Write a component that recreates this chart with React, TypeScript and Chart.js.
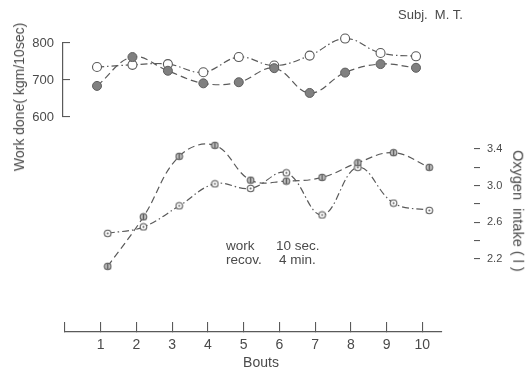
import React, { useEffect, useRef } from 'react';
import { Chart, registerables } from 'chart.js';

Chart.register(...registerables);

// ---------- data ----------
const bouts = [1, 2, 3, 4, 5, 6, 7, 8, 9, 10];
const workOpen = [735, 741, 743, 721, 762, 739, 766, 812, 773, 764];
const workFilled = [684, 762, 725, 691, 694, 732, 665, 720, 743, 733];
const o2Bar = [2.12, 2.66, 3.32, 3.44, 3.06, 3.05, 3.09, 3.25, 3.36, 3.2];
const o2Dot = [2.48, 2.55, 2.78, 3.02, 2.97, 3.14, 2.68, 3.2, 2.81, 2.73];
const workTicks = [600, 650, 700, 750, 800];
const workLabelled = [600, 700, 800];
const o2Ticks = [2.2, 2.4, 2.6, 2.8, 3.0, 3.2, 3.4];
const o2Labelled = [2.2, 2.6, 3.0, 3.4];
const boutTicks = [0, 1, 2, 3, 4, 5, 6, 7, 8, 9, 10];

// ---------- style ----------
const W = 526;
const H = 371;
const FONT = "'Liberation Sans', Arial, Helvetica, sans-serif";
const LINE = '#5a5a5a';
const TEXT = '#4a4a4a';
const DASH_LONG = [7, 4];
const DASH_DOT = [7, 3, 1.5, 3];

function makeMarker(kind: 'dot' | 'bar'): HTMLCanvasElement {
  const c = document.createElement('canvas');
  c.width = 9;
  c.height = 9;
  const g = c.getContext('2d')!;
  g.lineWidth = 1.1;
  g.strokeStyle = LINE;
  g.fillStyle = kind === 'bar' ? '#c4c4c4' : '#ffffff';
  g.beginPath();
  g.arc(4.5, 4.5, 3.3, 0, Math.PI * 2);
  g.fill();
  g.stroke();
  g.fillStyle = LINE;
  if (kind === 'dot') {
    g.beginPath();
    g.arc(4.5, 4.5, 1, 0, Math.PI * 2);
    g.fill();
  } else {
    g.fillRect(3.8, 1.6, 1.4, 5.8);
  }
  return c;
}

const pts = (ys: number[]) => bouts.map((b, i) => ({ x: b, y: ys[i] }));

export default function App() {
  const topRef = useRef<HTMLCanvasElement>(null);
  const midRef = useRef<HTMLCanvasElement>(null);
  const axRef = useRef<HTMLCanvasElement>(null);

  useEffect(() => {
    const charts: Chart[] = [];
    const common: any = {
      responsive: false,
      animation: false,
      devicePixelRatio: 1,
      events: [],
      plugins: { legend: { display: false }, title: { display: false }, tooltip: { enabled: false } },
      elements: { line: { tension: 0.4, capBezierPoints: false, borderWidth: 1.2 } },
    };

    // top panel: work done
    charts.push(
      new Chart(topRef.current!, {
        type: 'line',
        data: {
          datasets: [
            {
              data: pts(workFilled),
              borderColor: LINE,
              borderDash: DASH_LONG,
              pointRadius: 4.5,
              pointBackgroundColor: '#808080',
              pointBorderColor: '#5e5e5e',
              pointBorderWidth: 1,
              clip: false,
            } as any,
            {
              data: pts(workOpen),
              borderColor: LINE,
              borderDash: DASH_DOT,
              pointRadius: 4.5,
              pointBackgroundColor: '#ffffff',
              pointBorderColor: LINE,
              pointBorderWidth: 1.1,
              clip: false,
            } as any,
          ],
        },
        options: {
          ...common,
          layout: { padding: { left: 0, top: 43, right: 84, bottom: 254 } },
          scales: {
            x: { type: 'linear', display: false, min: 0.0406, max: 10.7336 },
            y: {
              type: 'linear',
              position: 'left',
              min: 600,
              max: 800,
              afterBuildTicks: (s: any) => {
                s.ticks = workTicks.map((v) => ({ value: v }));
              },
              afterFit: (s: any) => {
                s.width = 63;
              },
              ticks: {
                callback: (v: any) => (workLabelled.includes(Number(v)) ? String(v) : ''),
                font: { family: FONT, size: 13 },
                color: TEXT,
                padding: 16,
              },
              grid: { drawOnChartArea: false, tickLength: -7, color: LINE, lineWidth: 1.1 },
              border: { display: true, color: LINE, width: 1.2 },
            },
          },
        } as any,
      })
    );

    // bottom panel: oxygen intake
    const dotMarker = makeMarker('dot');
    const barMarker = makeMarker('bar');
    charts.push(
      new Chart(midRef.current!, {
        type: 'line',
        data: {
          datasets: [
            {
              data: pts(o2Bar),
              borderColor: LINE,
              borderDash: DASH_LONG,
              pointStyle: barMarker,
              clip: false,
            } as any,
            {
              data: pts(o2Dot),
              borderColor: LINE,
              borderDash: DASH_DOT,
              pointStyle: dotMarker,
              clip: false,
            } as any,
          ],
        },
        options: {
          ...common,
          layout: { padding: { left: 66, top: 139.833, right: 0, bottom: 93.667 } },
          scales: {
            x: { type: 'linear', display: false, min: -0.167, max: 11.251 },
            y: {
              type: 'linear',
              position: 'right',
              min: 2.0,
              max: 3.5,
              afterBuildTicks: (s: any) => {
                s.ticks = o2Ticks.map((v) => ({ value: v }));
              },
              afterFit: (s: any) => {
                s.width = 52;
              },
              ticks: {
                callback: (v: any) =>
                  o2Labelled.some((t) => Math.abs(t - Number(v)) < 1e-6) ? Number(v).toFixed(1) : '',
                font: { family: FONT, size: 11 },
                color: TEXT,
                padding: 7,
              },
              grid: { drawOnChartArea: false, tickLength: 6, color: LINE, lineWidth: 1.1 },
              border: { display: false },
            },
          },
        } as any,
      })
    );

    // x axis: bouts
    charts.push(
      new Chart(axRef.current!, {
        type: 'line',
        data: { datasets: [] },
        options: {
          ...common,
          layout: { padding: { left: 65, top: 300, right: 84, bottom: 0 } },
          scales: {
            x: {
              type: 'linear',
              position: 'bottom',
              min: 0,
              max: 10.55,
              afterBuildTicks: (s: any) => {
                s.ticks = boutTicks.map((v) => ({ value: v }));
              },
              afterFit: (s: any) => {
                s.height = 39;
              },
              ticks: {
                autoSkip: false,
                maxRotation: 0,
                callback: (v: any) => (Number(v) === 0 ? '' : String(v)),
                font: { family: FONT, size: 14 },
                color: TEXT,
                padding: 15,
              },
              grid: { drawOnChartArea: false, tickLength: -10, color: LINE, lineWidth: 1.1 },
              border: { display: true, color: LINE, width: 1.2 },
            },
            y: { type: 'linear', display: false, min: 0, max: 1 },
          },
        } as any,
      })
    );

    return () => charts.forEach((c) => c.destroy());
  }, []);

  const abs: React.CSSProperties = { position: 'absolute', left: 0, top: 0, width: W, height: H, display: 'block' };
  const txt = (s: React.CSSProperties): React.CSSProperties => ({
    position: 'absolute',
    whiteSpace: 'pre',
    lineHeight: 1,
    color: TEXT,
    fontFamily: FONT,
    ...s,
  });

  return (
    <div style={{ position: 'absolute', left: 0, top: 0, width: W, height: H, background: '#fff', overflow: 'hidden' }}>
      <canvas ref={topRef} width={W} height={H} style={abs} />
      <canvas ref={midRef} width={W} height={H} style={abs} />
      <canvas ref={axRef} width={W} height={H} style={abs} />

      <div style={txt({ left: 398, top: 8, fontSize: 13 })}>{'Subj.  M. T.'}</div>
      <div
        style={txt({
          left: 19,
          top: 97,
          fontSize: 14,
          transform: 'translate(-50%, -50%) rotate(-90deg)',
        })}
      >
        {'Work done( kgm/10sec)'}
      </div>
      <div
        style={txt({
          left: 518,
          top: 211,
          fontSize: 14.5,
          transform: 'translate(-50%, -50%) rotate(90deg)',
        })}
      >
        {'Oxygen  intake ( l )'}
      </div>
      <div style={txt({ left: 226, top: 239, fontSize: 13.5 })}>work</div>
      <div style={txt({ left: 276, top: 239, fontSize: 13.5 })}>10 sec.</div>
      <div style={txt({ left: 226, top: 253, fontSize: 13.5 })}>recov.</div>
      <div style={txt({ left: 279, top: 253, fontSize: 13.5 })}>4 min.</div>
      <div style={txt({ left: 261, top: 355, fontSize: 14, transform: 'translateX(-50%)' })}>Bouts</div>
    </div>
  );
}
